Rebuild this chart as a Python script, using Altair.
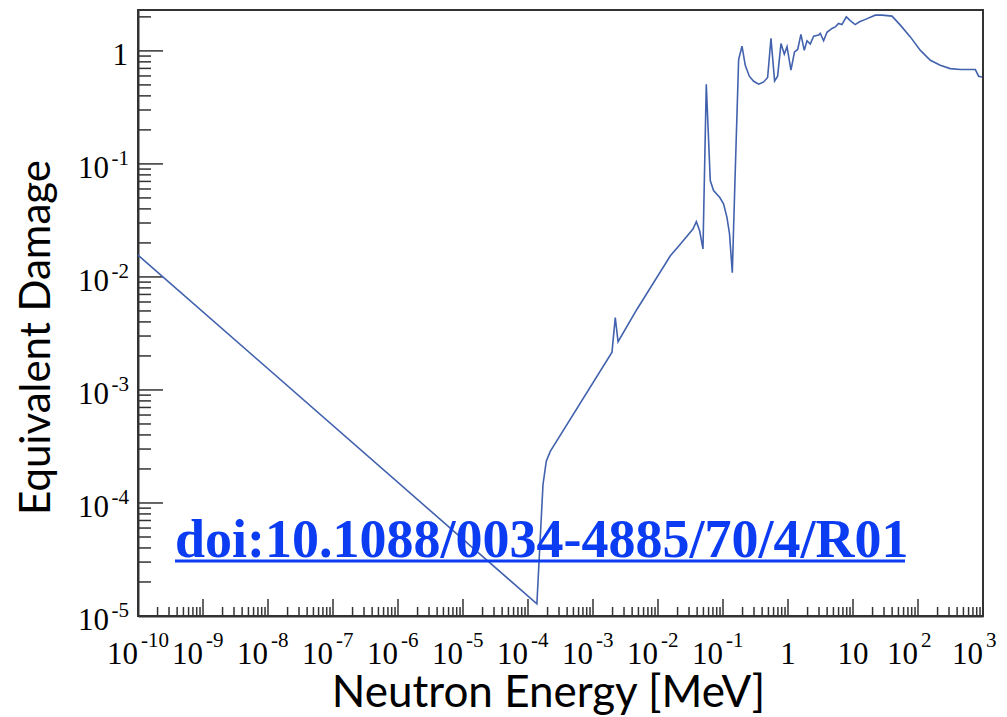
import altair as alt
import pandas as pd

# ---------------- data ----------------
energy_mev = [
    1.0e-10, 1.37e-4, 1.70e-4, 1.91e-4, 2.20e-4, 1.96e-3, 2.20e-3, 2.43e-3,
    4.75e-3, 1.55e-2, 2.20e-2, 3.45e-2, 3.89e-2, 4.37e-2, 4.92e-2, 5.53e-2,
    6.37e-2, 7.16e-2, 8.87e-2, 0.102, 0.115, 0.126, 0.139, 0.155,
    0.174, 0.196, 0.220, 0.254, 0.296, 0.353, 0.422, 0.486,
    0.547, 0.622, 0.692, 0.780, 0.877, 0.966, 1.11, 1.26,
    1.41, 1.58, 1.78, 1.96, 2.20, 2.48, 2.96, 3.14,
    3.53, 3.98, 4.75, 5.35, 6.00, 6.76, 7.89, 9.08,
    10.8, 12.6, 15.5, 22.0, 27.9, 39.8, 53.5, 76.2,
    109.0, 155.0, 220.0, 314.0, 448.0, 762.0, 857.0, 966.0,
]
damage = [
    1.56e-2, 1.28e-5, 1.45e-4, 2.34e-4, 2.86e-4, 2.16e-3, 4.37e-3, 2.67e-3,
    5.18e-3, 1.54e-2, 1.95e-2, 2.65e-2, 3.08e-2, 2.56e-2, 1.77e-2, 0.507,
    7.13e-2, 5.81e-2, 5.07e-2, 4.43e-2, 3.37e-2, 2.40e-2, 1.09e-2, 9.35e-2,
    0.839, 1.10, 0.746, 0.597, 0.538, 0.507, 0.531, 0.581,
    1.29, 0.542, 0.597, 1.16, 0.935, 1.09, 0.675, 0.98,
    1.03, 1.40, 1.01, 1.23, 1.15, 1.35, 1.38, 1.43,
    1.23, 1.46, 1.58, 1.63, 1.75, 1.71, 2.00, 1.85,
    1.71, 1.81, 1.90, 2.07, 2.07, 2.03, 1.69, 1.33,
    1.01, 0.826, 0.746, 0.697, 0.684, 0.684, 0.597, 0.587,
]

x_tick_values = [1e-10, 1e-9, 1e-8, 1e-7, 1e-6, 1e-5, 1e-4, 1e-3, 1e-2, 1e-1,
                 1.0, 10.0, 100.0, 1000.0]
x_tick_bases = ["10", "10", "10", "10", "10", "10", "10", "10", "10", "10",
                "1", "10", "10", "10"]
x_tick_exps = ["-10", "-9", "-8", "-7", "-6", "-5", "-4", "-3", "-2", "-1",
               "", "", "2", "3"]
y_tick_values = [1e-5, 1e-4, 1e-3, 1e-2, 1e-1, 1.0]
y_tick_bases = ["10", "10", "10", "10", "10", "1"]
y_tick_exps = ["-5", "-4", "-3", "-2", "-1", ""]
minor_multipliers = [2, 3, 4, 5, 6, 7, 8, 9]

x_domain = [1e-10, 1e3]
y_domain = [1e-5, 2.3]

doi_text = "doi:10.1088/0034-4885/70/4/R01"
x_title = "Neutron Energy [MeV]"
y_title = "Equivalent Damage"

# ---------------- styling ----------------
W, H = 845, 606
AXIS_COLOR = "#333333"
LINE_COLOR = "#4262ae"
DOI_COLOR = "#0b3cf2"
SERIF = "Liberation Serif"
BASE_SIZE = 31
EXP_SIZE = 21

x_minor = [m * v for v in x_tick_values[:-1] for m in minor_multipliers]
y_minor = [m * v for v in y_tick_values for m in minor_multipliers
           if m * v <= y_domain[1]]

curve = pd.DataFrame({"energy": energy_mev, "damage": damage})
xlab = pd.DataFrame({"v": x_tick_values, "base": x_tick_bases, "exp": x_tick_exps})
ylab = pd.DataFrame({"v": y_tick_values, "base": y_tick_bases, "exp": y_tick_exps})

xscale = alt.Scale(type="log", domain=x_domain, nice=False)
yscale = alt.Scale(type="log", domain=y_domain, nice=False)

line = alt.Chart(curve).mark_line(
    color=LINE_COLOR, strokeWidth=1.6, strokeJoin="miter"
).encode(
    x=alt.X("energy:Q", scale=xscale, axis=alt.Axis(
        values=x_tick_values, labels=False, ticks=False, tickSize=0, grid=False,
        domainColor=AXIS_COLOR, domainWidth=2,
        title=x_title, titleFont="Lato", titleFontSize=44, titleFontWeight="normal",
        titleColor="black", titleBaseline="alphabetic", titleX=410, titleY=90,
        titleAlign="center",
    )),
    y=alt.Y("damage:Q", scale=yscale, axis=alt.Axis(
        values=y_tick_values, labels=False, ticks=False, tickSize=0, grid=False,
        domainColor=AXIS_COLOR, domainWidth=2,
        title=y_title, titleFont="Lato", titleFontSize=42, titleFontWeight="normal",
        titleColor="black", titleBaseline="alphabetic", titleAngle=-90,
        titleX=-89, titleY=327, titleAlign="center",
    )),
)

# inward tick marks
x_major_ticks = alt.Chart(pd.DataFrame({"v": x_tick_values})).mark_rule(
    color=AXIS_COLOR, strokeWidth=1.5
).encode(x=alt.X("v:Q", scale=xscale), y=alt.value(H), y2=alt.value(H - 17))

x_minor_ticks = alt.Chart(pd.DataFrame({"v": x_minor})).mark_rule(
    color=AXIS_COLOR, strokeWidth=1.5
).encode(x=alt.X("v:Q", scale=xscale), y=alt.value(H), y2=alt.value(H - 9))

y_major_ticks = alt.Chart(pd.DataFrame({"v": y_tick_values})).mark_rule(
    color=AXIS_COLOR, strokeWidth=1.5
).encode(y=alt.Y("v:Q", scale=yscale), x=alt.value(0), x2=alt.value(25))

y_minor_ticks = alt.Chart(pd.DataFrame({"v": y_minor})).mark_rule(
    color=AXIS_COLOR, strokeWidth=1.5
).encode(y=alt.Y("v:Q", scale=yscale), x=alt.value(0), x2=alt.value(13))

# tick labels with real superscripts: "10" + smaller raised exponent
x_base_pow = alt.Chart(xlab).transform_filter("datum.exp != ''").mark_text(
    font=SERIF, fontSize=BASE_SIZE, color="black", align="right",
    baseline="alphabetic", dx=0
).encode(x=alt.X("v:Q", scale=xscale), y=alt.value(H + 48), text="base:N")

x_exp = alt.Chart(xlab).transform_filter("datum.exp != ''").mark_text(
    font=SERIF, fontSize=EXP_SIZE, color="black", align="left",
    baseline="alphabetic", dx=3
).encode(x=alt.X("v:Q", scale=xscale), y=alt.value(H + 31), text="exp:N")

x_plain = alt.Chart(xlab).transform_filter("datum.exp == ''").mark_text(
    font=SERIF, fontSize=BASE_SIZE, color="black", align="center",
    baseline="alphabetic"
).encode(x=alt.X("v:Q", scale=xscale), y=alt.value(H + 48), text="base:N")

y_base_pow = alt.Chart(ylab).transform_filter("datum.exp != ''").mark_text(
    font=SERIF, fontSize=BASE_SIZE, color="black", align="right",
    baseline="alphabetic", dx=-29, dy=14
).encode(y=alt.Y("v:Q", scale=yscale), x=alt.value(0), text="base:N")

y_exp = alt.Chart(ylab).transform_filter("datum.exp != ''").mark_text(
    font=SERIF, fontSize=EXP_SIZE, color="black", align="right",
    baseline="alphabetic", dx=-9, dy=1
).encode(y=alt.Y("v:Q", scale=yscale), x=alt.value(0), text="exp:N")

y_plain = alt.Chart(ylab).transform_filter("datum.exp == ''").mark_text(
    font=SERIF, fontSize=BASE_SIZE, color="black", align="right",
    baseline="alphabetic", dx=-10, dy=14
).encode(y=alt.Y("v:Q", scale=yscale), x=alt.value(0), text="base:N")

doi = alt.Chart(pd.DataFrame({"t": [doi_text]})).mark_text(
    font=SERIF, fontSize=54, fontWeight="bold", color=DOI_COLOR,
    align="left", baseline="alphabetic"
).encode(text="t:N", x=alt.value(37), y=alt.value(547))

underline = alt.Chart(pd.DataFrame({"t": [doi_text]})).mark_rule(
    color=DOI_COLOR, strokeWidth=3
).encode(x=alt.value(37), x2=alt.value(767), y=alt.value(551))

chart = alt.layer(
    x_minor_ticks, x_major_ticks, y_minor_ticks, y_major_ticks, line,
    x_base_pow, x_exp, x_plain, y_base_pow, y_exp, y_plain,
    underline, doi
).properties(
    width=W, height=H,
    autosize=alt.AutoSizeParams(type="none"),
    padding={"left": 138, "top": 10, "right": 24, "bottom": 101},
    background="white",
).configure_view(
    stroke=AXIS_COLOR, strokeWidth=2
)

chart.save("out.html", embed_options={"renderer": "svg", "actions": False})
